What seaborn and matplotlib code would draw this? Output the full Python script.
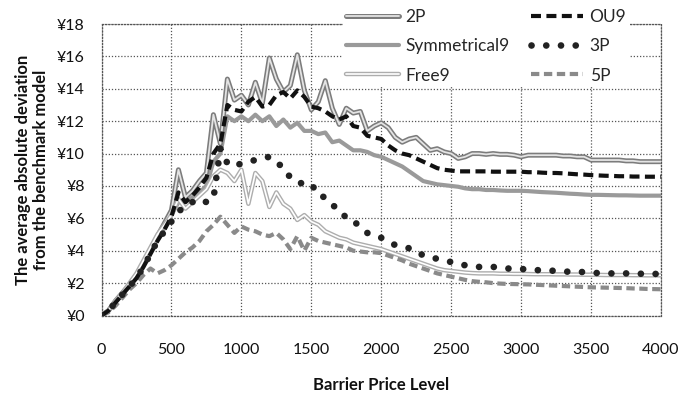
import matplotlib
matplotlib.use("Agg")
import matplotlib.pyplot as plt
import matplotlib.patheffects as pe
import seaborn as sns
import pandas as pd

barrier = list(range(0, 4001, 50))

p2 = [0.0, 0.3, 0.9, 1.4, 1.9, 2.5, 3.2, 4.0, 4.9, 5.7,
      6.5, 9.0, 7.3, 7.7, 8.3, 8.8, 12.4, 10.6, 14.6, 13.3,
      13.6, 13.0, 14.4, 13.1, 15.9, 14.6, 13.8, 14.2, 16.1, 13.9,
      12.7, 13.2, 14.5, 12.8, 11.8, 12.8, 12.5, 12.6, 11.4, 11.7,
      11.9, 11.6, 11.0, 10.7, 10.9, 11.0, 10.6, 10.2, 10.3, 10.1,
      10.0, 9.7, 9.8, 10.0, 10.0, 9.95, 10.0, 9.95, 9.95, 9.9,
      9.8, 9.9, 9.9, 9.9, 9.9, 9.9, 9.85, 9.85, 9.8, 9.8,
      9.6, 9.6, 9.6, 9.6, 9.6, 9.55, 9.55, 9.5, 9.5, 9.5,
      9.5]

ou9 = [0.0, 0.3, 0.8, 1.3, 1.8, 2.3, 3.0, 3.8, 4.6, 5.3,
       6.1, 7.6, 7.0, 7.4, 7.9, 8.5, 10.0, 10.6, 13.0, 12.7,
       12.6, 13.2, 13.5, 12.9, 13.0, 13.6, 13.8, 13.4, 13.9, 13.5,
       12.9, 12.8, 12.6, 12.3, 12.1, 12.3, 11.7, 11.6, 11.1, 11.0,
       10.9, 10.5, 10.2, 10.0, 9.9, 9.7, 9.5, 9.3, 9.1, 9.0,
       8.95, 8.9, 8.9, 8.9, 8.9, 8.9, 8.88, 8.88, 8.88, 8.88,
       8.88, 8.85, 8.85, 8.82, 8.8, 8.8, 8.78, 8.75, 8.72, 8.7,
       8.67, 8.65, 8.63, 8.62, 8.6, 8.6, 8.58, 8.58, 8.57, 8.57,
       8.57]

sym9 = [0.0, 0.3, 0.9, 1.4, 1.9, 2.4, 3.1, 3.9, 4.7, 5.4,
        6.2, 7.0, 7.0, 7.3, 7.6, 8.0, 9.5, 10.0, 12.3, 12.0,
        12.3, 12.0, 12.4, 12.0, 12.3, 11.7, 12.1, 11.6, 11.9, 11.4,
        11.4, 11.2, 11.3, 10.7, 10.8, 10.5, 10.2, 10.2, 10.1, 9.9,
        9.8, 9.6, 9.4, 9.2, 8.9, 8.6, 8.3, 8.2, 8.1, 8.05,
        8.0, 7.95, 7.85, 7.8, 7.8, 7.75, 7.75, 7.72, 7.7, 7.7,
        7.7, 7.68, 7.65, 7.62, 7.6, 7.58, 7.55, 7.52, 7.5, 7.47,
        7.45, 7.45, 7.44, 7.43, 7.42, 7.42, 7.41, 7.4, 7.4, 7.4,
        7.4]

p3 = [0.0, 0.3, 0.8, 1.3, 1.8, 2.3, 3.0, 3.8, 4.6, 5.2,
      5.8, 6.4, 6.8, 7.0, 7.2, 7.0, 7.2, 10.3, 9.4, 9.2,
      9.4, 9.5, 9.6, 9.7, 9.8, 9.4, 9.2, 8.5, 8.2, 8.15,
      8.15, 7.4, 7.3, 6.8, 6.6, 6.0, 5.9, 5.4, 5.1, 4.9,
      4.8, 4.55, 4.35, 4.25, 4.15, 4.0, 3.7, 3.6, 3.5, 3.4,
      3.3, 3.2, 3.1, 3.05, 3.0, 3.0, 3.0, 2.95, 2.9, 2.9,
      2.87, 2.85, 2.8, 2.8, 2.78, 2.75, 2.72, 2.7, 2.7, 2.68,
      2.65, 2.62, 2.6, 2.6, 2.6, 2.6, 2.58, 2.58, 2.57, 2.57,
      2.56]

free9 = [0.0, 0.3, 0.9, 1.4, 2.0, 2.6, 3.4, 4.2, 5.0, 5.6,
         6.2, 7.2, 6.6, 7.0, 7.4, 7.8, 8.6, 9.0, 8.8, 8.3,
         9.0, 6.9, 8.8, 8.3, 6.7, 7.6, 6.9, 6.6, 5.9, 6.2,
         5.8, 5.6, 5.2, 5.0, 4.8, 4.7, 4.5, 4.4, 4.3, 4.2,
         4.1, 3.95, 3.8, 3.65, 3.5, 3.35, 3.2, 3.05, 2.9, 2.8,
         2.75, 2.7, 2.65, 2.62, 2.6, 2.6, 2.6, 2.58, 2.58, 2.57,
         2.57, 2.56, 2.55, 2.55, 2.55, 2.54, 2.54, 2.53, 2.53, 2.52,
         2.52, 2.51, 2.5, 2.5, 2.5, 2.5, 2.49, 2.49, 2.48, 2.48,
         2.48]

p5 = [0.0, 0.2, 0.6, 1.1, 1.6, 2.0, 2.5, 2.9, 2.6, 2.8,
      3.1, 3.5, 3.9, 4.2, 4.6, 5.2, 5.6, 6.1, 5.6, 5.1,
      5.5, 5.3, 5.2, 5.0, 4.9, 5.1, 4.7, 4.1, 4.9, 4.0,
      4.8, 4.6, 4.5, 4.4, 4.3, 4.2, 4.0, 3.95, 3.9, 3.9,
      3.85, 3.7, 3.55, 3.4, 3.2, 3.05, 2.9, 2.75, 2.6, 2.5,
      2.4, 2.3, 2.2, 2.12, 2.08, 2.05, 2.0, 1.97, 1.95, 1.94,
      1.93, 1.92, 1.9, 1.88, 1.86, 1.84, 1.82, 1.8, 1.78, 1.76,
      1.74, 1.73, 1.72, 1.71, 1.7, 1.69, 1.67, 1.66, 1.64, 1.63,
      1.62]

y_ticks = [0, 2, 4, 6, 8, 10, 12, 14, 16, 18]
y_tick_labels = ["¥" + str(v) for v in y_ticks]
x_ticks = [0, 500, 1000, 1500, 2000, 2500, 3000, 3500, 4000]

df = pd.DataFrame({"x": barrier, "2P": p2, "OU9": ou9, "Symmetrical9": sym9,
                   "3P": p3, "Free9": free9, "5P": p5})

sns.set_style("white")
plt.rcParams["font.family"] = ["Lato", "DejaVu Sans"]

fig = plt.figure(figsize=(6.81, 3.94), dpi=100)
ax = fig.add_axes([101.5 / 681, 1 - 315.5 / 394, (661 - 101.5) / 681, (315.5 - 24) / 394])

sns.lineplot(data=df, x="x", y="Symmetrical9", ax=ax, color="#9a9a9a", linewidth=3.0,
             label="Symmetrical9", zorder=3)
sns.lineplot(data=df, x="x", y="2P", ax=ax, color="#e4e4e4", linewidth=1.3, label="2P", zorder=4,
             path_effects=[pe.Stroke(linewidth=3.6, foreground="#7c7c7c"), pe.Normal()])
sns.lineplot(data=df, x="x", y="Free9", ax=ax, color="#ffffff", linewidth=1.2, label="Free9", zorder=4,
             path_effects=[pe.Stroke(linewidth=3.2, foreground="#adadad"), pe.Normal()])
sns.lineplot(data=df, x="x", y="5P", ax=ax, color="#8a8a8a", linewidth=3.0, label="5P", zorder=5,
             linestyle=(0, (2.0, 1.1)))
sns.lineplot(data=df, x="x", y="OU9", ax=ax, color="#111111", linewidth=3.0, label="OU9", zorder=6,
             linestyle=(0, (2.4, 1.3)))
sns.lineplot(data=df, x="x", y="3P", ax=ax, color="#222222", linewidth=4.8, label="3P", zorder=7,
             linestyle=(0, (0.01, 2.2)), dash_capstyle="round")

ax.set_xlim(0, 4000)
ax.set_ylim(0, 18)
ax.set_xticks(x_ticks)
ax.set_xticklabels([str(v) for v in x_ticks])
ax.set_yticks(y_ticks)
ax.set_yticklabels(y_tick_labels)
ax.tick_params(axis="both", length=0, labelsize=11.5, colors="#111111")
ax.tick_params(axis="y", pad=12)
ax.tick_params(axis="x", pad=20)

grid_ls = (0, (1.0, 1.5))
ax.grid(True, color="#555555", linestyle=grid_ls, linewidth=0.9)
for s in ax.spines.values():
    s.set_visible(True)
    s.set_linestyle(grid_ls)
    s.set_color("#555555")
    s.set_linewidth(0.9)

ax.set_xlabel("Barrier Price Level", fontsize=12, fontweight="bold", labelpad=14, color="#111111")
ax.set_ylabel("The average absolute deviation\nfrom the benchmark model", fontsize=12,
              fontweight="bold", labelpad=6, color="#111111", linespacing=1.15)

handles, labels = ax.get_legend_handles_labels()
hmap = dict(zip(labels, handles))
order = ["2P", "Symmetrical9", "Free9", "OU9", "3P", "5P"]
leg = ax.legend([hmap[k] for k in order], order, ncol=2, loc="upper left",
                bbox_to_anchor=(343 / 681, 1 - 6 / 394), bbox_transform=fig.transFigure,
                borderaxespad=0, borderpad=0.2, fontsize=12.5, handlelength=3.0,
                handletextpad=0.4, columnspacing=1.2, labelspacing=0.75,
                frameon=True, facecolor="white", edgecolor="none", framealpha=1.0, fancybox=False)
leg.set_zorder(10)

fig.savefig("out.png", dpi=100)
